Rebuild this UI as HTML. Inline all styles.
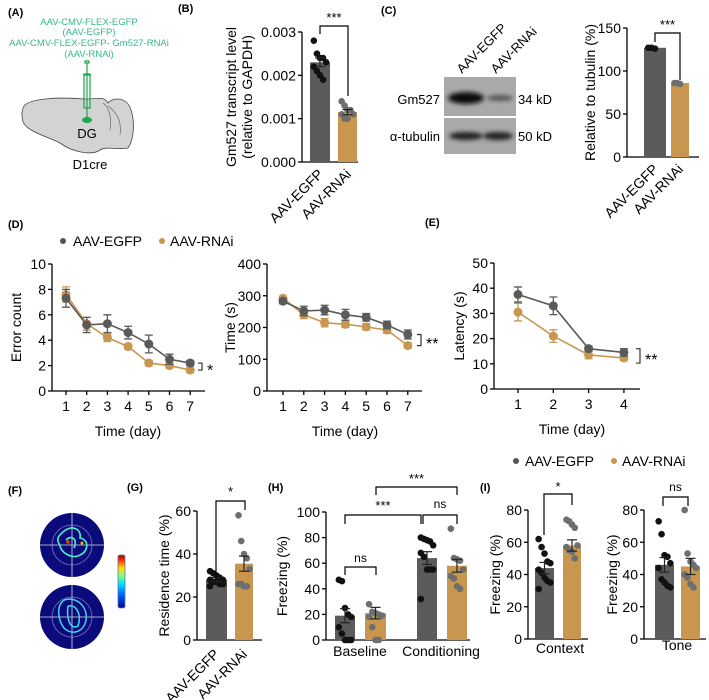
<!DOCTYPE html>
<html><head><meta charset="utf-8">
<style>
html,body{margin:0;padding:0;background:#fff;}
svg{display:block;font-family:"Liberation Sans",Arial,sans-serif;}
.pl{font-weight:bold;font-size:11px;}
</style></head>
<body>
<svg id="fig" width="709" height="700" viewBox="0 0 709 700" xmlns="http://www.w3.org/2000/svg">
<defs>
<filter id="blur" x="-30%" y="-60%" width="160%" height="220%"><feGaussianBlur stdDeviation="2.2"/></filter>
<linearGradient id="jet" x1="0" y1="1" x2="0" y2="0">
<stop offset="0" stop-color="#00008f"/><stop offset="0.25" stop-color="#0060ff"/><stop offset="0.45" stop-color="#00e0ff"/><stop offset="0.6" stop-color="#80ff80"/><stop offset="0.75" stop-color="#ffe000"/><stop offset="0.9" stop-color="#ff3000"/><stop offset="1" stop-color="#a00000"/></linearGradient>
</defs>
<!-- panel labels -->
<text class="pl" x="8" y="16">(A)</text>
<text class="pl" x="178" y="12">(B)</text>
<text class="pl" x="381" y="14">(C)</text>
<text class="pl" x="8" y="228">(D)</text>
<text class="pl" x="425" y="226">(E)</text>
<text class="pl" x="8" y="494">(F)</text>
<text class="pl" x="127" y="491">(G)</text>
<text class="pl" x="268" y="491">(H)</text>
<text class="pl" x="480" y="491">(I)</text>

<!-- Panel A -->
<g font-size="9.5" fill="#35b98a" text-anchor="middle">
<text x="89" y="25">AAV-CMV-FLEX-EGFP</text>
<text x="89" y="35">(AAV-EGFP)</text>
<text x="89" y="46">AAV-CMV-FLEX-EGFP- Gm527-RNAi</text>
<text x="89" y="57">(AAV-RNAi)</text>
</g>
<path d="M24,106 C30,98 60,97 85,99 C100,99 104,96 108,103 C114,96 128,98 131,110 C135,122 134,140 128,148 C118,150 106,146 100,150 C92,156 72,152 60,143 C46,136 28,132 23,122 C21,114 22,110 24,106 Z" fill="#d3d3d3" stroke="#444" stroke-width="0.8"/>
<path d="M103,103 C110,108 112,120 110,130 M108,106 C116,112 122,120 120,135" fill="none" stroke="#555" stroke-width="0.6"/>
<g stroke="#1aa64a" fill="none" stroke-width="1.2">
<rect x="85" y="61" width="4" height="2"/>
<line x1="87" y1="63" x2="87" y2="118"/>
<rect x="84" y="74" width="6" height="34"/>
<line x1="83" y1="75" x2="91" y2="75"/>
</g>
<ellipse cx="87" cy="120" rx="5" ry="3" fill="#1aa64a"/>
<text x="87" y="138" font-size="13" text-anchor="middle">DG</text>
<text x="90" y="169" font-size="13" text-anchor="middle">D1cre</text>

<!-- Panel C blot -->
<g>
<rect x="444" y="77" width="72" height="39" fill="#a9a9a9"/>
<rect x="444" y="118" width="72" height="36" fill="#a9a9a9"/>
<ellipse cx="466" cy="98" rx="18" ry="6" fill="#111" filter="url(#blur)"/>
<ellipse cx="500" cy="98" rx="13" ry="3" fill="#555" filter="url(#blur)"/>
<ellipse cx="466" cy="136" rx="17" ry="4" fill="#222" filter="url(#blur)"/>
<ellipse cx="498" cy="136" rx="15" ry="4" fill="#222" filter="url(#blur)"/>
</g>
<g font-size="13">
<text x="440" y="104" text-anchor="end">Gm527</text>
<text x="440" y="141" text-anchor="end">α-tubulin</text>
<text x="518" y="104">34 kD</text>
<text x="518" y="141">50 kD</text>
<text transform="translate(462,74) rotate(-45)">AAV-EGFP</text>
<text transform="translate(496,74) rotate(-45)">AAV-RNAi</text>
</g>

<!-- Panel F -->
<g>
<circle cx="72" cy="545" r="32" fill="#0a0a7a"/>
<circle cx="72" cy="545" r="20" fill="none" stroke="#7a7ac8" stroke-width="0.8"/>
<line x1="40" y1="545" x2="104" y2="545" stroke="#ddd" stroke-width="0.8"/><line x1="72" y1="513" x2="72" y2="577" stroke="#ddd" stroke-width="0.8"/>
<path d="M62,533 C70,524 82,528 80,538 C90,540 88,552 80,555 C72,560 60,552 60,545 C56,540 58,536 62,533 M66,540 C72,534 78,540 74,548" fill="none" stroke="#4ff0d0" stroke-width="1.6"/>
<circle cx="68" cy="542" r="1.8" fill="#ff3000"/><circle cx="82" cy="543" r="1.5" fill="#ffb000"/>
<circle cx="72" cy="617" r="32" fill="#0a0a7a"/>
<circle cx="72" cy="617" r="20" fill="none" stroke="#7a7ac8" stroke-width="0.8"/>
<line x1="40" y1="617" x2="104" y2="617" stroke="#ddd" stroke-width="0.8"/><line x1="72" y1="585" x2="72" y2="649" stroke="#ddd" stroke-width="0.8"/>
<path d="M64,600 C76,596 88,606 86,620 C84,632 72,636 64,628 C58,620 56,606 64,600 M68,606 C76,604 82,614 78,626 C72,630 66,622 68,606" fill="none" stroke="#3fd8f0" stroke-width="1.5"/>
<rect x="118" y="555" width="7" height="53" rx="2" fill="url(#jet)" stroke="#5a7ab0" stroke-width="0.8"/>
</g>

<!-- Legends -->
<g font-size="14">
<circle cx="63" cy="241" r="3" fill="#555"/><text x="73" y="246">AAV-EGFP</text>
<circle cx="162" cy="241" r="3" fill="#c8964f"/><text x="170" y="246">AAV-RNAi</text>
</g>
<g font-size="14">
<circle cx="516" cy="461" r="3" fill="#555"/><text x="525" y="466">AAV-EGFP</text>
<circle cx="614" cy="461" r="3" fill="#c8964f"/><text x="622" y="466">AAV-RNAi</text>
</g>
<g id="charts"></g>
</svg>
<script>
// ---------- data ----------
const groupLabels = ["AAV-EGFP", "AAV-RNAi"];
// B
const bTicks = [0, 0.001, 0.002, 0.003];
const bMeans = [0.0023, 0.00115];
const bErr = [0.0001, 0.00006];
const bPtsEGFP = [0.0028, 0.0025, 0.0024, 0.0024, 0.0023, 0.0022, 0.0021, 0.002, 0.0019];
const bPtsRNAi = [0.0014, 0.0013, 0.0012, 0.0012, 0.0011, 0.0011, 0.001, 0.001];
// C
const cTicks = [0, 50, 100, 150];
const cMeans = [127, 86];
const cPtsEGFP = [127, 127, 126];
const cPtsRNAi = [86, 86, 85];
// D
const daysD = [1, 2, 3, 4, 5, 6, 7];
const errTicks = [0, 2, 4, 6, 8, 10];
const errEGFP = [7.3, 5.2, 5.3, 4.6, 3.7, 2.5, 2.2];
const errEGFPsem = [0.7, 0.6, 0.7, 0.5, 0.7, 0.4, 0.2];
const errRNAi = [7.6, 5.3, 4.2, 3.5, 2.2, 2.0, 1.65];
const errRNAisem = [0.6, 0.5, 0.3, 0.2, 0.2, 0.2, 0.2];
const timeTicks = [0, 100, 200, 300, 400];
const timeEGFP = [283, 252, 255, 240, 232, 208, 178];
const timeEGFPsem = [8, 15, 15, 17, 12, 12, 14];
const timeRNAi = [292, 240, 215, 210, 202, 192, 143];
const timeRNAisem = [6, 12, 13, 10, 10, 10, 8];
// E
const daysE = [1, 2, 3, 4];
const latTicks = [0, 10, 20, 30, 40, 50];
const latEGFP = [37.5, 33, 16, 14.5];
const latEGFPsem = [3, 3.5, 1, 1.5];
const latRNAi = [30.5, 21, 13.5, 12.3];
const latRNAisem = [3.5, 2.5, 1.5, 1];
// G
const gTicks = [0, 20, 40, 60];
const gMeans = [28, 35.5];
const gErr = [1, 3.5];
const gPtsEGFP = [32, 31, 30, 29, 28, 28, 27, 27, 26, 26, 25];
const gPtsRNAi = [58, 46, 40, 38, 33, 26, 26, 25, 25];
// H
const hTicks = [0, 20, 40, 60, 80, 100];
const hCats = ["Baseline", "Conditioning"];
const hMeansEGFP = [19, 64];
const hMeansRNAi = [21, 58];
const hErrEGFP = [5.5, 5];
const hErrRNAi = [4.5, 5];
const hBaseEGFP = [47, 46, 25, 20, 18, 10, 5, 0, 0, 0];
const hBaseRNAi = [28, 22, 21, 20, 19, 18, 10, 0, 0];
const hCondEGFP = [80, 79, 78, 77, 74, 68, 65, 55, 55, 55, 32];
const hCondRNAi = [87, 64, 63, 62, 55, 50, 48, 42, 40];
// I
const iTicks = [0, 20, 40, 60, 80];
const ctxMeans = [44, 58];
const ctxErr = [3.5, 3.5];
const ctxEGFP = [62, 57, 53, 48, 47, 43, 41, 38, 36, 35, 31];
const ctxRNAi = [74, 73, 71, 69, 58, 57, 55, 54, 50];
const toneMeans = [46, 45];
const toneErr = [4.5, 5];
const toneEGFP = [73, 65, 52, 51, 47, 44, 37, 35, 33, 32];
const toneRNAi = [80, 53, 48, 46, 44, 40, 38, 34, 32];

// ---------- helpers ----------
const NS = "http://www.w3.org/2000/svg";
const root = document.getElementById("charts");
const GRAY = "#5b5b5b", ORANGE = "#c8964f";
function el(tag, attrs, parent) {
  const e = document.createElementNS(NS, tag);
  for (const k in attrs) e.setAttribute(k, attrs[k]);
  (parent || root).appendChild(e);
  return e;
}
function txt(s, attrs, parent) { const t = el("text", attrs, parent); t.textContent = s; return t; }
function lin(v, vmax, y0, y1) { return y0 - v / vmax * (y0 - y1); }

function yAxis(g, ax, y0, y1, ticks, fmt, xEnd, title, titleX) {
  const vmax = ticks[ticks.length - 1];
  const a = el("line", {x1: ax, y1: y1, x2: ax, y2: y0, stroke: "#000", "stroke-width": 1.3}, g);
  
  
  const b = el("line", {x1: ax, y1: y0, x2: xEnd, y2: y0, stroke: "#000", "stroke-width": 1.3}, g);
  
  
  ticks.forEach(t => {
    const y = lin(t, vmax, y0, y1);
    el("line", {x1: ax - 4, y1: y, x2: ax, y2: y, stroke: "#000", "stroke-width": 1.3}, g);
    const tl = txt(fmt(t), {x: ax - 6, y: y + 5, "font-size": 14, "text-anchor": "end"}, g);
    
    
  });
  if (title) {
    const cy = (y0 + y1) / 2;
    const tt = txt(title, {transform: `translate(${titleX},${cy}) rotate(-90)`, "font-size": 14, "text-anchor": "middle"}, g);
    
    
  }
  return vmax;
}

function bar(g, x0, x1, val, err, pts, color, ptColor, vmax, y0, y1, name) {
  const yv = lin(val, vmax, y0, y1);
  const r = el("rect", {x: x0, y: yv, width: x1 - x0, height: y0 - yv, fill: color}, g);
  
  
  const cx = (x0 + x1) / 2, w = x1 - x0;
  pts.forEach((p, i) => {
    const off = ((i % 5) - 2) * w / 6.5;
    const c = el("circle", {cx: cx + off, cy: lin(p, vmax, y0, y1), r: 3.3, fill: ptColor}, g);
    
    
  });
  if (err) {
    const ya = lin(val + err, vmax, y0, y1), yb = lin(val - err, vmax, y0, y1);
    el("line", {x1: cx, y1: ya, x2: cx, y2: yb, stroke: "#222", "stroke-width": 1.2}, g);
    el("line", {x1: cx - 5, y1: ya, x2: cx + 5, y2: ya, stroke: "#222", "stroke-width": 1.2}, g);
    el("line", {x1: cx - 5, y1: yb, x2: cx + 5, y2: yb, stroke: "#222", "stroke-width": 1.2}, g);
  }
}
function bracket(g, xa, xb, y, ya, yb, label, ly) {
  el("path", {d: `M${xa},${ya} L${xa},${y} L${xb},${y} L${xb},${yb}`, fill: "none", stroke: "#000", "stroke-width": 1.2}, g);
  const t = txt(label, {x: (xa + xb) / 2, y: ly, "font-size": label === "ns" ? 12 : 13, "text-anchor": "middle"}, g);
  
  
}
function rotLabels(g, xs, y, labels) {
  labels.forEach((s, i) => {
    const t = txt(s, {transform: `translate(${xs[i] + 4},${y}) rotate(-45)`, "font-size": 14, "text-anchor": "end"}, g);
    
    
  });
}
function lineChart(g, ax, y0, y1, xFirst, xStep, days, ticks, s1, e1, s2, e2, xEnd, title, titleX, xTitleX) {
  const vmax = yAxis(g, ax, y0, y1, ticks, t => String(t), xEnd, title, titleX);
  days.forEach((d, i) => {
    const x = xFirst + i * xStep;
    el("line", {x1: x, y1: y0, x2: x, y2: y0 + 4, stroke: "#000", "stroke-width": 1.3}, g);
    const t = txt(String(d), {x: x, y: y0 + 20, "font-size": 14, "text-anchor": "middle"}, g);
    
    
  });
  const xt = txt("Time (day)", {x: xTitleX, y: y0 + 45, "font-size": 14, "text-anchor": "middle"}, g);
  
  
  [[s2, e2, ORANGE, "rnai"], [s1, e1, "#5a5a5a", "egfp"]].forEach(([s, e, col, nm]) => {
    const pts = s.map((v, i) => [xFirst + i * xStep, lin(v, vmax, y0, y1)]);
    const p = el("polyline", {points: pts.map(q => q.join(",")).join(" "), fill: "none", stroke: col, "stroke-width": 1.6}, g);
    
    
    s.forEach((v, i) => {
      const x = xFirst + i * xStep;
      const ya = lin(v + e[i], vmax, y0, y1), yb = lin(v - e[i], vmax, y0, y1);
      el("path", {d: `M${x},${ya} L${x},${yb} M${x - 4},${ya} L${x + 4},${ya} M${x - 4},${yb} L${x + 4},${yb}`, stroke: col, "stroke-width": 1.3}, g);
      const c = el("circle", {cx: x, cy: lin(v, vmax, y0, y1), r: 4.5, fill: col}, g);
      
      
    });
  });
  return vmax;
}
function sideBracket(g, x, ya, yb, label) {
  el("path", {d: `M${x - 4},${ya} L${x},${ya} L${x},${yb} L${x - 4},${yb}`, fill: "none", stroke: "#333", "stroke-width": 1.2}, g);
  const t = txt(label, {x: x + 5, y: (ya + yb) / 2 + 9, "font-size": 16}, g);
  
  
}

// ---------- Panel B ----------
{
  const g = el("g", {});  
  const y0 = 162, y1 = 32;
  const vmax = yAxis(g, 302, y0, y1, bTicks, t => t.toFixed(3), 358, null, 0);
  const t1 = txt("Gm527 transcript level", {transform: "translate(236,97) rotate(-90)", "font-size": 14, "text-anchor": "middle"}, g);
   
  const t2 = txt("(relative to GAPDH)", {transform: "translate(252,97) rotate(-90)", "font-size": 14, "text-anchor": "middle"}, g);
   
  bar(g, 310, 330, bMeans[0], bErr[0], bPtsEGFP, GRAY, "#111", vmax, y0, y1, "bar-egfp");
  bar(g, 338, 357, bMeans[1], bErr[1], bPtsRNAi, ORANGE, "#6e6e6e", vmax, y0, y1, "bar-rnai");
  bracket(g, 320, 348, 26, 34, 96, "***", 22);
  rotLabels(g, [320, 348], 175, groupLabels);
}
// ---------- Panel C chart ----------
{
  const g = el("g", {});  
  const y0 = 157, y1 = 28;
  const vmax = yAxis(g, 627, y0, y1, cTicks, t => String(t), 699, "Relative to tubulin (%)", 595);
  bar(g, 644, 666, cMeans[0], 0, cPtsEGFP, GRAY, "#111", vmax, y0, y1, "bar-egfp");
  bar(g, 671, 689, cMeans[1], 0, cPtsRNAi, ORANGE, "#6e6e6e", vmax, y0, y1, "bar-rnai");
  bracket(g, 655, 680, 33, 42, 80, "***", 29);
  rotLabels(g, [655, 680], 170, groupLabels);
}
// ---------- Panel D ----------
{
  const g = el("g", {});  
  const vmax = lineChart(g, 52, 391, 264, 66, 20.7, daysD, errTicks, errEGFP, errEGFPsem, errRNAi, errRNAisem, 205, "Error count", 21, 128);
  sideBracket(g, 202, lin(errEGFP[6], vmax, 391, 264), lin(errRNAi[6], vmax, 391, 264), "*");
}
{
  const g = el("g", {});  
  const vmax = lineChart(g, 267, 391, 264, 283, 20.8, daysD, timeTicks, timeEGFP, timeEGFPsem, timeRNAi, timeRNAisem, 422, "Time (s)", 235, 345);
  sideBracket(g, 421, lin(timeEGFP[6], vmax, 391, 264), lin(timeRNAi[6], vmax, 391, 264), "**");
}
// ---------- Panel E ----------
{
  const g = el("g", {});  
  const vmax = lineChart(g, 494, 389, 263, 518, 35.3, daysE, latTicks, latEGFP, latEGFPsem, latRNAi, latRNAisem, 640, "Latency (s)", 464, 572);
  sideBracket(g, 640, lin(latEGFP[3] + 1.5, vmax, 389, 263), lin(latRNAi[3] - 2, vmax, 389, 263), "**");
}
// ---------- Panel G ----------
{
  const g = el("g", {});  
  const y0 = 640, y1 = 511;
  const vmax = yAxis(g, 197, y0, y1, gTicks, t => String(t), 262, "Residence time (%)", 169);
  bar(g, 206, 227, gMeans[0], gErr[0], gPtsEGFP, GRAY, "#111", vmax, y0, y1, "bar-egfp");
  bar(g, 235, 253, gMeans[1], gErr[1], gPtsRNAi, ORANGE, "#6e6e6e", vmax, y0, y1, "bar-rnai");
  bracket(g, 216, 245, 501, 580, 510, "*", 496);
  rotLabels(g, [216, 244], 655, groupLabels);
}
// ---------- Panel H ----------
{
  const g = el("g", {});  
  const y0 = 640, y1 = 512;
  const vmax = yAxis(g, 326, y0, y1, hTicks, t => String(t), 470, "Freezing (%)", 287);
  bar(g, 335, 355, hMeansEGFP[0], hErrEGFP[0], hBaseEGFP, GRAY, "#111", vmax, y0, y1, "bar-baseline-egfp");
  bar(g, 365, 386, hMeansRNAi[0], hErrRNAi[0], hBaseRNAi, ORANGE, "#6e6e6e", vmax, y0, y1, "bar-baseline-rnai");
  bar(g, 417, 437, hMeansEGFP[1], hErrEGFP[1], hCondEGFP, GRAY, "#111", vmax, y0, y1, "bar-conditioning-egfp");
  bar(g, 447, 467, hMeansRNAi[1], hErrRNAi[1], hCondRNAi, ORANGE, "#6e6e6e", vmax, y0, y1, "bar-conditioning-rnai");
  [[hCats[0], 360], [hCats[1], 441]].forEach(([s, x]) => {
    const t = txt(s, {x: x, y: 656, "font-size": 14, "text-anchor": "middle"}, g);
     
  });
  bracket(g, 345, 376, 567, 575, 575, "ns", 562);
  bracket(g, 345, 421, 515, 524, 524, "***", 510);
  bracket(g, 423, 457, 515, 524, 524, "ns", 508);
  bracket(g, 376, 457, 487, 495, 495, "***", 483);
}
// ---------- Panel I ----------
{
  const g = el("g", {});  
  const y0 = 639, y1 = 510;
  const vmax = yAxis(g, 528, y0, y1, iTicks, t => String(t), 588, "Freezing (%)", 500);
  bar(g, 535, 554, ctxMeans[0], ctxErr[0], ctxEGFP, GRAY, "#111", vmax, y0, y1, "bar-context-egfp");
  bar(g, 563, 581, ctxMeans[1], ctxErr[1], ctxRNAi, ORANGE, "#6e6e6e", vmax, y0, y1, "bar-context-rnai");
  const t = txt("Context", {x: 560, y: 653, "font-size": 14, "text-anchor": "middle"}, g);
   
  bracket(g, 544, 572, 494, 535, 505, "*", 491);
}
{
  const g = el("g", {});  
  const y0 = 639, y1 = 510;
  const vmax = yAxis(g, 644, y0, y1, iTicks, t => String(t), 706, "Freezing (%)", 617);
  bar(g, 655, 674, toneMeans[0], toneErr[0], toneEGFP, GRAY, "#111", vmax, y0, y1, "bar-tone-egfp");
  bar(g, 681, 700, toneMeans[1], toneErr[1], toneRNAi, ORANGE, "#6e6e6e", vmax, y0, y1, "bar-tone-rnai");
  const t = txt("Tone", {x: 677, y: 650, "font-size": 14, "text-anchor": "middle"}, g);
   
  bracket(g, 663, 688, 497, 506, 506, "ns", 491);
}
</script>
</body></html>
